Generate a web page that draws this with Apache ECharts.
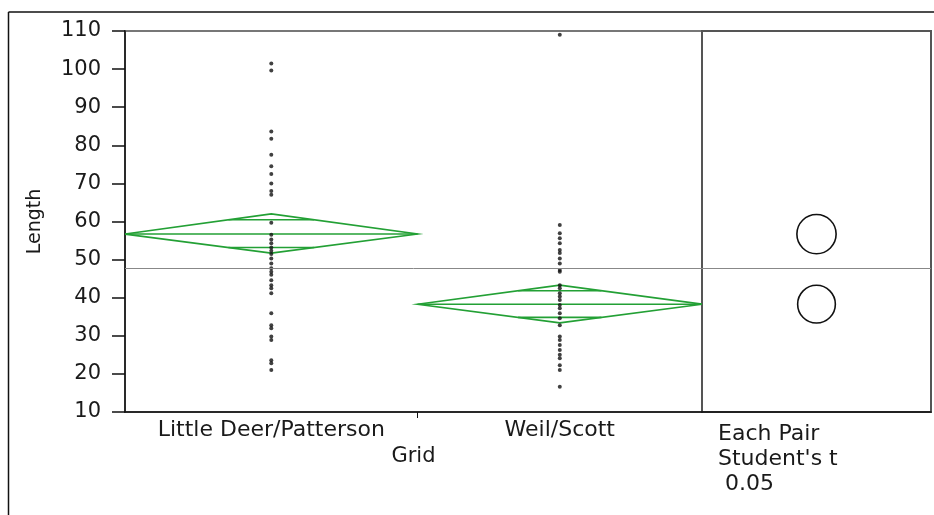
<!DOCTYPE html>
<html>
<head>
<meta charset="utf-8">
<script src="https://cdn.jsdelivr.net/npm/echarts@6/dist/echarts.min.js"></script>
<style>html,body{margin:0;padding:0;background:#fff;}#c{width:934px;height:515px;}</style>
</head>
<body>
<div id="c"></div>
<script>
// ---- data ----
var groups = ['Little Deer/Patterson', 'Weil/Scott'];
var groupN = [36, 35];
var means = [56.7, 38.3];
var ciLower = [51.7, 33.4];
var ciUpper = [62.0, 43.3];
var grandMean = 47.8;
var lengthsLittleDeer = [101.5, 99.6, 83.6, 81.7, 77.5, 74.5, 72.5, 70, 68, 67,
  59.7, 56.5, 55.3, 54.3, 53.2, 52.3, 51.5, 50.3, 49.0, 47.7, 46.8, 46.0, 44.6, 43.3, 42.5, 41.2,
  35.9, 32.8, 32.0, 29.8, 28.9, 23.6, 22.8, 21.0];
var lengthsWeilScott = [109, 59.1, 56.9, 55.6, 54.3, 52.5, 51.7, 50.3, 49.0, 47.3, 46.8,
  43.3, 42.5, 41.2, 40.3, 39.4, 38.1, 37.2, 35.9, 34.6, 32.8, 29.8, 28.9, 27.6, 26.3, 25.0,
  24.1, 22.3, 21.0, 16.6];
var groupValues = [lengthsLittleDeer, lengthsWeilScott];
var xTitle = 'Grid';
var yTitle = 'Length';
var compLabel = "Each Pair\nStudent's t\n 0.05";

// ---- derived ----
var total = groupN.reduce(function(a,b){return a+b;},0);
var starts = [], centers = [], acc = 0;
groupN.forEach(function(n){ starts.push(acc); centers.push(acc + n/2); acc += n; });
var boundaries = starts.slice(1);
var diamondData = groups.map(function(g,i){
  return [starts[i], starts[i]+groupN[i], means[i], ciLower[i], ciUpper[i]];
});
var dotData = [];
groupValues.forEach(function(arr,i){ arr.forEach(function(v){ dotData.push([centers[i], v]); }); });
var circleData = groups.map(function(g,i){ return [0.5, means[i], (ciUpper[i]-ciLower[i])/2]; });

var GREEN = '#23a035';
var FONT = 'DejaVu Sans';
var TXT = '#1a1a1a';

var chart = echarts.init(document.getElementById('c'), null, {renderer:'canvas'});
chart.setOption({
  backgroundColor: '#fff',
  animation: false,
  textStyle: {fontFamily: FONT},
  title: [{
    text: compLabel, left: 713, top: 417,
    textStyle: {fontFamily: FONT, fontSize: 22, fontWeight: 'normal', color: TXT, lineHeight: 25}
  }],
  graphic: [
    {type:'line', shape:{x1:8.5,y1:12,x2:934,y2:12}, style:{stroke:'#111', lineWidth:1.5}, silent:true},
    {type:'line', shape:{x1:8.5,y1:12,x2:8.5,y2:515}, style:{stroke:'#111', lineWidth:1.5}, silent:true}
  ],
  grid: [
    {left:125, top:31, width:577, height:381, show:true, borderColor:'#777', borderWidth:2, backgroundColor:'transparent'},
    {left:702, top:31, width:229, height:381, show:true, borderColor:'#555', borderWidth:2, backgroundColor:'transparent'}
  ],
  xAxis: [
    {gridIndex:0, type:'value', min:0, max:total, name:xTitle, nameLocation:'middle', nameGap:33,
     nameTextStyle:{fontFamily:FONT, fontSize:21, color:TXT},
     axisLine:{show:true, lineStyle:{color:'#111', width:1.5}},
     splitLine:{show:false},
     axisTick:{show:true, customValues:boundaries, length:6, lineStyle:{color:'#111'}},
     axisLabel:{show:true, customValues:centers, margin:7, fontFamily:FONT, fontSize:22, color:TXT,
       formatter:function(v){ var i = centers.indexOf(v); return i>=0 ? groups[i] : ''; }}
    },
    {gridIndex:1, type:'value', min:0, max:1,
     axisLine:{show:true, lineStyle:{color:'#111', width:1.5}},
     axisTick:{show:false}, axisLabel:{show:false}, splitLine:{show:false}}
  ],
  yAxis: [
    {gridIndex:0, type:'value', min:10, max:110, interval:10, name:yTitle, nameLocation:'middle', nameGap:80,
     nameTextStyle:{fontFamily:FONT, fontSize:19, color:TXT},
     axisLine:{show:true, lineStyle:{color:'#111', width:1.5}},
     axisTick:{show:true, length:13, lineStyle:{color:'#111', width:1.5}},
     axisLabel:{fontFamily:FONT, fontSize:21, color:TXT, margin:24},
     splitLine:{show:false}},
    {gridIndex:1, type:'value', min:10, max:110, interval:10,
     axisLine:{show:false}, axisTick:{show:false}, axisLabel:{show:false}, splitLine:{show:false}}
  ],
  series: [
    {
      type:'custom', xAxisIndex:0, yAxisIndex:0, z:2, clip:true,
      data: diamondData,
      renderItem: function(params, api){
        var x0 = api.value(0), x1 = api.value(1), m = api.value(2), lo = api.value(3), hi = api.value(4);
        var xc = (x0+x1)/2;
        var L = api.coord([x0, m]), R = api.coord([x1, m]);
        var T = api.coord([xc, hi]), B = api.coord([xc, lo]);
        var hw = (R[0]-L[0])/2;
        var f = 1/Math.SQRT2;
        var om1 = api.coord([xc, m + (hi-m)*f]), om2 = api.coord([xc, m - (m-lo)*f]);
        var ohw = hw*(1-f);
        var st = {stroke: GREEN, lineWidth: 1.6, fill: null};
        return {type:'group', children:[
          {type:'polygon', shape:{points:[L,T,R,B]}, style:st},
          {type:'line', shape:{x1:L[0], y1:L[1], x2:R[0], y2:R[1]}, style:st},
          {type:'line', shape:{x1:om1[0]-ohw, y1:om1[1], x2:om1[0]+ohw, y2:om1[1]}, style:st},
          {type:'line', shape:{x1:om2[0]-ohw, y1:om2[1], x2:om2[0]+ohw, y2:om2[1]}, style:st}
        ]};
      },
      markLine: {silent:true, symbol:'none', animation:false, label:{show:false},
        lineStyle:{color:'#888', width:1, type:'solid'}, data:[{yAxis: grandMean}]}
    },
    {
      type:'scatter', xAxisIndex:0, yAxisIndex:0, z:3,
      symbol:'circle', symbolSize:4,
      itemStyle:{color:'#111'},
      data: dotData
    },
    {
      type:'custom', xAxisIndex:1, yAxisIndex:1, z:2,
      data: circleData,
      renderItem: function(params, api){
        var c = api.coord([api.value(0), api.value(1)]);
        var r = api.size([0, api.value(2)])[1];
        return {type:'circle', shape:{cx:c[0], cy:c[1], r:r}, style:{stroke:'#111', lineWidth:1.6, fill:null}};
      },
      markLine: {silent:true, symbol:'none', animation:false, label:{show:false},
        lineStyle:{color:'#888', width:1, type:'solid'}, data:[{yAxis: grandMean}]}
    }
  ]
});
</script>
</body>
</html>
